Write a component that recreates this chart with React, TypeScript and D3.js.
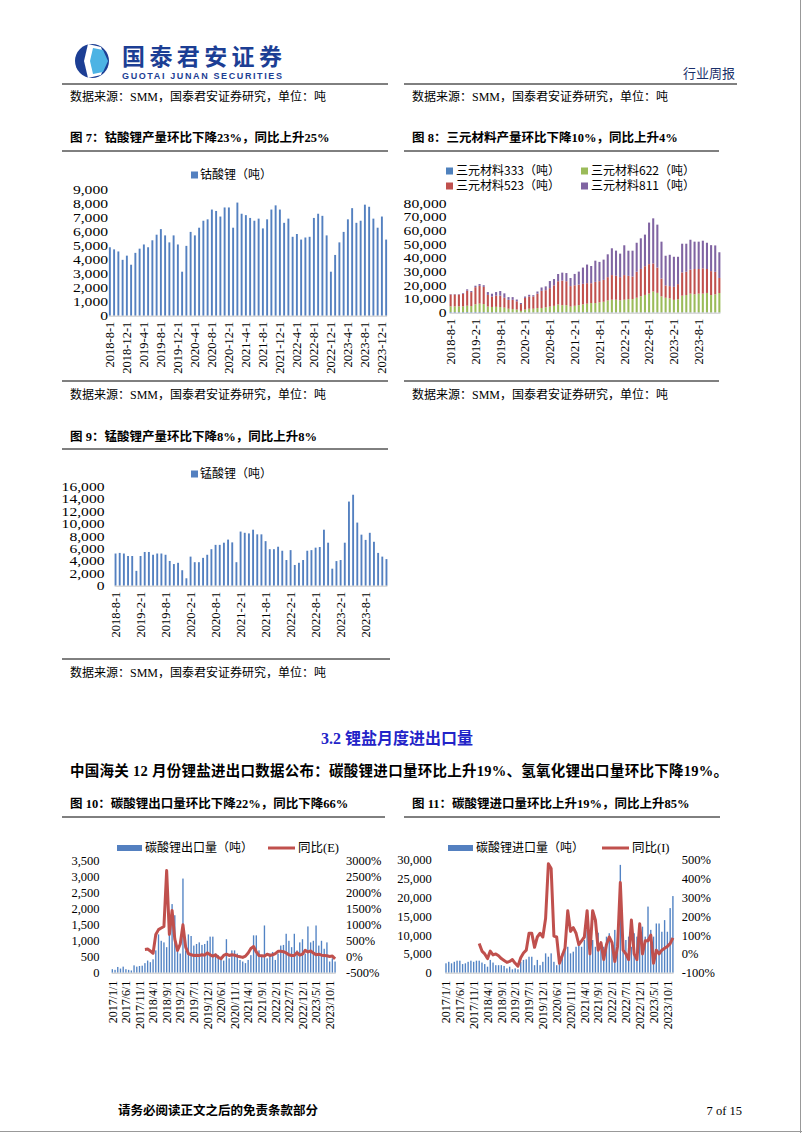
import React from 'react';
import * as d3 from 'd3';

const SERIF = "'Liberation Serif', 'Noto Sans CJK SC', serif";
const CJK = "'Noto Sans CJK SC', 'Liberation Serif', sans-serif";

// categories
const months66: string[] = d3
  .timeMonth.range(new Date(2018, 7, 1), new Date(2024, 1, 1))
  .map((d) => `${d.getFullYear()}-${d.getMonth() + 1}-1`);
const tradeMonths: string[] = d3
  .timeMonth.range(new Date(2017, 0, 1), new Date(2024, 0, 1))
  .map((d) => `${d.getFullYear()}/${d.getMonth() + 1}/1`)
  .filter((m) => m !== '2020/1/1');

const ticks7 = ['2018-8-1', '2018-12-1', '2019-4-1', '2019-8-1', '2019-12-1', '2020-4-1', '2020-8-1', '2020-12-1', '2021-4-1', '2021-8-1', '2021-12-1', '2022-4-1', '2022-8-1', '2022-12-1', '2023-4-1', '2023-8-1', '2023-12-1'];
const ticks6m = ['2018-8-1', '2019-2-1', '2019-8-1', '2020-2-1', '2020-8-1', '2021-2-1', '2021-8-1', '2022-2-1', '2022-8-1', '2023-2-1', '2023-8-1'];
const ticksTrade = ['2017/1/1', '2017/6/1', '2017/11/1', '2018/4/1', '2018/9/1', '2019/2/1', '2019/7/1', '2019/12/1', '2020/6/1', '2020/11/1', '2021/4/1', '2021/9/1', '2022/2/1', '2022/7/1', '2022/12/1', '2023/5/1', '2023/10/1'];

// 钴酸锂 (吨)
const licoo = [
  4900, 4750, 4600, 4000, 4300, 3650, 4500, 4800, 5100, 4900,
  5400, 5800, 6200, 5750, 5250, 5750, 5100, 3150, 5000, 6000,
  5750, 6300, 6800, 6900, 7600, 7500, 7100, 7750, 7750, 6300,
  8100, 7300, 7200, 7000, 6800, 6950, 6250, 6900, 7600, 7900,
  7600, 6650, 6950, 5650, 5850, 5450, 5600, 5650, 7000, 7300,
  7150, 5750, 3150, 4350, 5250, 6000, 6900, 7700, 6650, 6800,
  7950, 7800, 6950, 6300, 7100, 5450,
];

// 三元材料 (吨)
const ncm333 = [
  500, 500, 450, 450, 500, 450, 550, 550, 500, 400,
  400, 400, 350, 350, 300, 300, 250, 200, 250, 300,
  300, 300, 350, 350, 350, 400, 400, 400, 400, 350,
  350, 350, 400, 400, 350, 350, 350, 300, 300, 300,
  300, 300, 300, 250, 250, 250, 300, 300, 300, 300,
  300, 250, 250, 250, 200, 200, 250, 250, 250, 250,
  250, 250, 250, 200, 200, 200,
];
const ncm622 = [
  4100, 4100, 4200, 4200, 4600, 4400, 5600, 6100, 5800, 4100,
  3800, 3900, 3800, 3400, 2600, 2400, 2100, 1100, 2100, 2600,
  2600, 3100, 3100, 3600, 4100, 4600, 5600, 5100, 5100, 4100,
  4700, 5200, 5700, 6200, 6700, 6700, 7200, 7700, 8700, 9200,
  9200, 8700, 9200, 9700, 9700, 10700, 11700, 12700, 13700, 15200,
  14200, 11700, 10700, 10200, 9200, 9700, 12200, 12700, 13700, 13200,
  13700, 13700, 14200, 12700, 13200, 14200,
];
const ncm523 = [
  8700, 8700, 8600, 9200, 11000, 10200, 12500, 13000, 12600, 8500,
  7600, 8200, 8300, 7200, 6500, 6700, 6000, 5000, 8500, 9000,
  9000, 10500, 12500, 12500, 13500, 15000, 17000, 18000, 17500, 15000,
  15000, 15000, 15000, 15000, 14500, 15500, 15500, 16000, 17000, 18000,
  17500, 17000, 18000, 17000, 16500, 19000, 20000, 21000, 21500, 20500,
  18500, 13000, 9000, 9000, 9500, 11000, 17000, 17000, 17500, 18500,
  18000, 18500, 17500, 17500, 16500, 11000,
];
const ncm811 = [
  300, 300, 300, 500, 1000, 800, 1100, 1300, 1200, 2100,
  2100, 2600, 3400, 3200, 2000, 2000, 1300, 800, 1000, 1200,
  900, 1600, 2500, 2800, 5200, 4600, 5300, 5800, 6000, 5900,
  8300, 9500, 11900, 13600, 12600, 15500, 14100, 14800, 16700, 19600,
  18400, 17200, 21800, 18400, 18900, 21200, 22400, 23100, 30400, 33000,
  31400, 27000, 21700, 22900, 22000, 20000, 21000, 20500, 21900, 20000,
  20000, 20200, 19200, 19000, 19300, 18800,
];

// 锰酸锂 (吨)
const limno = [
  5200, 5300, 5200, 4800, 4800, 2400, 4800, 5450, 5450, 5000,
  5200, 5200, 5000, 4000, 3500, 3700, 2500, 1200, 4700, 3800,
  3800, 4500, 5000, 5900, 6600, 6600, 6950, 7450, 7000, 3800,
  8750, 8550, 8450, 9050, 8300, 8300, 7200, 5900, 5900, 6300,
  5650, 4150, 5750, 3350, 3700, 4150, 5650, 5750, 6150, 6250,
  9050, 6950, 2750, 3980, 4150, 6950, 13600, 14700, 10200, 8250,
  7400, 8550, 7100, 5300, 4700, 4300,
];

// 碳酸锂出口量 (吨) and 同比(E) %
const exportQty = [
  110, 90, 180, 130, 190, 110, 90, 70, 230, 190,
  210, 220, 300, 380, 330, 420, 700, 1200, 1000, 950,
  800, 1600, 2150, 1800, 700, 600, 2950, 700, 1200, 1150,
  850, 900, 950, 870, 900, 1000, 1130, 1130, 600, 550,
  400, 380, 1050, 450, 700, 700, 600, 400, 350, 300,
  400, 550, 1170, 1170, 700, 500, 1480, 450, 600, 650,
  400, 600, 850, 870, 1220, 1000, 800, 1220, 700, 950,
  1050, 600, 1450, 950, 1000, 1480, 850, 1000, 750, 950,
  350, 450, 350,
];
const exportYoY: (number | null)[] = [
  null, null, null, null, null, null, null, null, null, null, null, null,
  230, 240, 180, 110, 700, 850, 900, 950,
  2700, 700, 1450, 550, 200, 400, 1000, 300, 100, 60,
  40, 50, 40, 60, 50, 120, 60, 20, 60, -20,
  -60, 40, 80, 40, 60, 50, 20, 0, -20, 20,
  120, 260, 320, 150, 40, 30, 20, 80, 40, 60,
  100, 170, 170, 160, 120, 60, 40, 40, 130, 50,
  80, 200, 150, 180, 120, 60, 80, 50, 40, 30,
  10, 20, -66,
];

// 碳酸锂进口量 (吨) and 同比(I) %
const importQty = [
  2500, 2900, 2500, 2900, 3200, 3200, 2300, 2500, 2900, 3200,
  2900, 3200, 3200, 2700, 2300, 1600, 3400, 2700, 2000, 2000,
  2000, 1800, 1150, 1600, 900, 1150, 900, 2900, 3400, 3550,
  4250, 4250, 2000, 3400, 2000, 2900, 5150, 4250, 5150, 2900,
  2000, 3800, 5150, 6500, 6900, 5150, 5600, 6900, 7400, 6900,
  8700, 11400, 4700, 8700, 6900, 10650, 7800, 6900, 9600, 10500,
  8250, 11400, 8250, 28700, 9600, 8700, 9600, 6900, 10500, 9600,
  11000, 12250, 9600, 17600, 11400, 9600, 13100, 13100, 10900, 14000,
  10900, 17200, 20400,
];
const importYoY: (number | null)[] = [
  null, null, null, null, null, null, null, null, null, null, null, null,
  55, 15, 0, -25, 15, -5, 0, -10,
  -25, -35, -45, -40, -30, -50, -65, -20, 5, 20,
  110, 110, 35, 90, 110, 90, 190, 480, 455, 95,
  90, -50, -10, 30, 230, 120, 140, 110, 50, 70,
  90, 230, 0, 230, 180, 20, 60, -30, 50, 90,
  60, -40, 40, 380, 20, 0, -30, 180, 0, -30,
  160, 0, 70, 70, 100, -50, 20, 0, 20, 30,
  40, 55, 85,
];

const BLUE = '#5480c0';
const RED = '#c0504d';
const fmt = d3.format(',');

function XLabels({ x, ticks, y, size = 12.5 }: any) {
  const bw = x.bandwidth();
  return (
    <g fontFamily={SERIF} fontSize={size} fill="#000">
      {ticks.map((t: string) => (
        <text
          key={t}
          transform={`translate(${x(t) + bw / 2 + size * 0.35},${y}) rotate(-90)`}
          textAnchor="end"
        >
          {t}
        </text>
      ))}
    </g>
  );
}

// y labels in the small production charts look horizontally stretched
const YLabel = ({ x, y, v }: any) => (
  <text transform={`translate(${x},${y}) scale(1.25,1)`} dy="0.35em" textAnchor="end" fontFamily={SERIF} fontSize={12.5}>
    {fmt(v)}
  </text>
);

function SingleBars({ cats, values, ticks, x0, x1, yBase, yTop, max, step, labelX, legend, legendX, legendY }: any) {
  const x = d3.scaleBand().domain(cats).range([x0, x1]).paddingInner(0.55);
  const y = d3.scaleLinear().domain([0, max]).range([yBase, yTop]);
  const yt = d3.range(0, max + 1, step);
  return (
    <g>
      <rect x={legendX} y={legendY - 3.5} width={7} height={7} fill={BLUE} />
      <text x={legendX + 9} y={legendY} dy="0.35em" fontFamily={CJK} fontSize={12}>{legend}</text>
      {yt.map((v) => <YLabel key={v} x={labelX} y={y(v)} v={v} />)}
      {values.map((v: number, i: number) => (
        <rect key={i} x={x(cats[i])} y={y(v)} width={x.bandwidth()} height={yBase - y(v)} fill={BLUE} />
      ))}
      <line x1={x0} x2={x1} y1={yBase + 0.5} y2={yBase + 0.5} stroke="#c8c8c8" />
      <XLabels x={x} ticks={ticks} y={yBase + 6} />
    </g>
  );
}

function StackedBars() {
  const cats = months66;
  const keys = ['ncm333', 'ncm622', 'ncm523', 'ncm811'];
  const colors: Record<string, string> = { ncm333: '#4f81bd', ncm622: '#9bbb59', ncm523: '#c0504d', ncm811: '#8064a2' };
  const rows = cats.map((c, i) => ({ c, ncm333: ncm333[i], ncm622: ncm622[i], ncm523: ncm523[i], ncm811: ncm811[i] }));
  const series = d3.stack<any>().keys(keys)(rows);
  const x0 = 449.6, x1 = 720.4, yBase = 312.7, yTop = 203.3;
  const x = d3.scaleBand().domain(cats).range([x0, x1]).paddingInner(0.5);
  const y = d3.scaleLinear().domain([0, 80000]).range([yBase, yTop]);
  const yt = d3.range(0, 80001, 10000);
  const legend = [
    { k: 'ncm333', t: '三元材料333（吨）', lx: 446, ly: 171 },
    { k: 'ncm622', t: '三元材料622（吨）', lx: 581, ly: 171 },
    { k: 'ncm523', t: '三元材料523（吨）', lx: 446, ly: 186 },
    { k: 'ncm811', t: '三元材料811（吨）', lx: 581, ly: 186 },
  ];
  return (
    <g>
      {legend.map((l) => (
        <g key={l.k}>
          <rect x={l.lx} y={l.ly - 3.5} width={7} height={7} fill={colors[l.k]} />
          <text x={l.lx + 10} y={l.ly} dy="0.35em" fontFamily={CJK} fontSize={12}>{l.t}</text>
        </g>
      ))}
      {yt.map((v) => <YLabel key={v} x={446.5} y={y(v)} v={v} />)}
      {series.map((s) => (
        <g key={s.key} fill={colors[s.key]}>
          {s.map((d, i) => (
            <rect key={i} x={x(cats[i])} y={y(d[1])} width={x.bandwidth()} height={Math.max(0, y(d[0]) - y(d[1]))} />
          ))}
        </g>
      ))}
      <line x1={x0} x2={x1} y1={yBase + 0.5} y2={yBase + 0.5} stroke="#c8c8c8" />
      <XLabels x={x} ticks={ticks6m} y={yBase + 6} />
    </g>
  );
}

function Combo({ bars, yoy, x0, x1, yTop, max, step, rMin, rMax, rStep, leftX, rightX, barLegend, lineLegend, lg }: any) {
  const yBase = 972.7;
  const cats = tradeMonths;
  const x = d3.scaleBand().domain(cats).range([x0, x1]).paddingInner(0.5);
  const y = d3.scaleLinear().domain([0, max]).range([yBase, yTop]);
  const yr = d3.scaleLinear().domain([rMin, rMax]).range([yBase, yTop]);
  const line = d3
    .line<number | null>()
    .defined((d) => d != null)
    .x((_, i) => x(cats[i])! + x.bandwidth() / 2)
    .y((d) => yr(d as number));
  return (
    <g>
      <rect x={lg.bx} y={lg.y - 3} width={25} height={6} fill={BLUE} />
      <text x={lg.bx + 28} y={lg.y} dy="0.35em" fontFamily={CJK} fontSize={12}>{barLegend}</text>
      <line x1={lg.lx} x2={lg.lx + 27} y1={lg.y} y2={lg.y} stroke={RED} strokeWidth={3} />
      <text x={lg.lx + 30} y={lg.y} dy="0.35em" fontFamily={SERIF} fontSize={12.5}>{lineLegend}</text>
      {d3.range(0, max + 1, step).map((v) => (
        <text key={v} x={leftX} y={y(v)} dy="0.35em" textAnchor="end" fontFamily={SERIF} fontSize={12.5}>{fmt(v)}</text>
      ))}
      {d3.range(rMin, rMax + 1, rStep).map((v) => (
        <text key={v} x={rightX} y={yr(v)} dy="0.35em" fontFamily={SERIF} fontSize={12.5}>{`${v}%`}</text>
      ))}
      {bars.map((v: number, i: number) => (
        <rect key={i} x={x(cats[i])} y={y(v)} width={x.bandwidth()} height={yBase - y(v)} fill="#5283c4" />
      ))}
      <line x1={x0} x2={x1} y1={yBase + 0.5} y2={yBase + 0.5} stroke="#c8c8c8" />
      <path d={line(yoy) || ''} fill="none" stroke={RED} strokeWidth={3} strokeLinejoin="round" />
      <XLabels x={x} ticks={ticksTrade} y={yBase + 8} size={12} />
    </g>
  );
}

const Rule = ({ x1, x2, y }: any) => <line x1={x1} x2={x2} y1={y} y2={y} stroke="#000" strokeWidth={1} />;

const SRC = '数据来源：SMM，国泰君安证券研究，单位：吨';

function Text({ x, y, children, size = 12, bold = false, anchor = 'start', fill = '#000', family = SERIF, len }: any) {
  return (
    <text x={x} y={y} dy="0.35em" fontSize={size} fontWeight={bold ? 'bold' : 'normal'} textAnchor={anchor} fill={fill} fontFamily={family} textLength={len}>
      {children}
    </text>
  );
}

export default function App() {
  return (
    <svg width={802} height={1133} style={{ position: 'absolute', left: 0, top: 0, background: '#fff' }}>
      <rect width={802} height={1133} fill="#fff" />
      {/* header */}
      <circle cx={92} cy={61} r={17} fill="#1c3e94" />
      <path d="M88,44 L101,47 L106,61 L101,75 L88,78 L84,61 Z" fill="#fff" />
      <path d="M93,48 L103,50 L108,61 L103,72 L93,74 L90,61 Z" fill="#4db3e4" />
      <text x={122} y={57} dy="0.35em" fontFamily={CJK} fontSize={23} fontWeight="bold" fill="#1c3e94" textLength={160}>国泰君安证券</text>
      <text x={122} y={76} dy="0.35em" fontFamily="'Liberation Sans', Arial, sans-serif" fontSize={9} fontWeight="bold" fill="#1c3e94" textLength={160}>GUOTAI JUNAN SECURITIES</text>
      <Text x={735} y={73} size={13} anchor="end" family={CJK} fill="#1a2f6a">行业周报</Text>
      <Rule x1={62} x2={388} y={84} />
      <Rule x1={404} x2={737} y={84} />
      <Text x={70} y={97}>{SRC}</Text>
      <Text x={412} y={97}>{SRC}</Text>

      {/* fig 7 & 8 */}
      <Text x={70} y={138} size={12.5} bold>图 7：钴酸锂产量环比下降23%，同比上升25%</Text>
      <Text x={412} y={138} size={12.5} bold>图 8：三元材料产量环比下降10%，同比上升4%</Text>
      <Rule x1={62} x2={388} y={151} />
      <Rule x1={404} x2={719} y={151} />
      <SingleBars cats={months66} values={licoo} ticks={ticks7} x0={108.9} x1={387.1} yBase={315.7} yTop={190} max={9000} step={1000} labelX={108} legend="钴酸锂（吨）" legendX={191} legendY={175} />
      <StackedBars />
      <Rule x1={62} x2={388} y={381} />
      <Rule x1={404} x2={719} y={381} />
      <Text x={70} y={395}>{SRC}</Text>
      <Text x={412} y={395}>{SRC}</Text>

      {/* fig 9 */}
      <Text x={70} y={437} size={12.5} bold>图 9：锰酸锂产量环比下降8%，同比上升8%</Text>
      <Rule x1={62} x2={388} y={449} />
      <SingleBars cats={months66} values={limno} ticks={ticks6m} x0={114.6} x1={387.4} yBase={585.7} yTop={486.7} max={16000} step={2000} labelX={104.5} legend="锰酸锂（吨）" legendX={191} legendY={474} />
      <Rule x1={62} x2={390} y={659} />
      <Text x={70} y={673}>{SRC}</Text>

      {/* section */}
      <Text x={397} y={738} size={16} bold anchor="middle" fill="#2323c8">3.2 锂盐月度进出口量</Text>
      <Text x={70} y={771} size={14.5} bold len={658}>中国海关 12 月份锂盐进出口数据公布：碳酸锂进口量环比上升19%、氢氧化锂出口量环比下降19%。</Text>

      {/* fig 10 & 11 */}
      <Text x={70} y={804} size={12.5} bold>图 10：碳酸锂出口量环比下降22%，同比下降66%</Text>
      <Text x={412} y={804} size={12.5} bold>图 11：碳酸锂进口量环比上升19%，同比上升85%</Text>
      <Rule x1={62} x2={385} y={817} />
      <Rule x1={404} x2={720} y={817} />
      <Combo bars={exportQty} yoy={exportYoY} x0={111.65} x1={335.75} yTop={861} max={3500} step={500} rMin={-500} rMax={3000} rStep={500} leftX={99.5} rightX={346} barLegend="碳酸锂出口量（吨）" lineLegend="同比(E)" lg={{ bx: 117, lx: 268, y: 848 }} />
      <Combo bars={importQty} yoy={importYoY} x0={445.3} x1={673.6} yTop={860} max={30000} step={5000} rMin={-100} rMax={500} rStep={100} leftX={431.7} rightX={681.7} barLegend="碳酸锂进口量（吨）" lineLegend="同比(I)" lg={{ bx: 448, lx: 602, y: 848 }} />

      {/* footer */}
      <Text x={118} y={1111} size={12.5} bold>请务必阅读正文之后的免责条款部分</Text>
      <Text x={742} y={1111} size={12.5} anchor="end">7 of 15</Text>
      <line x1={0} x2={802} y1={1131.5} y2={1131.5} stroke="#999" />
      <line x1={800.5} x2={800.5} y1={0} y2={1133} stroke="#999" />
    </svg>
  );
}
